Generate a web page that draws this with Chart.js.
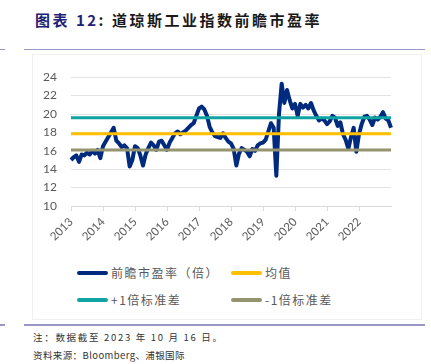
<!DOCTYPE html>
<html>
<head>
<meta charset="utf-8">
<script src="https://cdn.jsdelivr.net/npm/chart.js@4/dist/chart.umd.min.js"></script>
<style>
    body {margin: 0; background: #fff;}
    #page {position: relative; width: 431px; height: 364px; overflow: hidden; font-family: "Noto Sans CJK SC", sans-serif;}
    .abs {position: absolute;}
    #title {left: 35px; top: 9px; font-size: 15px; letter-spacing: 2.5px; color: #1a1a1a; font-weight: bold; white-space: nowrap;}
    #title .num {color: #1d2275;}
    .rule {height: 1.5px; background: #9a98c8;}
    #box {left: 32px; top: 54px; width: 388px; height: 264px; border: 1px solid #f0f0f0;}
    .legItem {position: absolute; font-size: 12px; color: #595959; letter-spacing: 1.5px; white-space: nowrap; line-height: 14px;}
    .legLine {position: absolute; width: 31px; height: 4px; border-radius: 2px;}
    .foot {left: 33px; font-size: 9.5px; color: #333; white-space: nowrap;}
</style>
</head>
<body>
<div id="page">
    <div id="title" class="abs"><span class="num">图表 12</span>: 道琼斯工业指数前瞻市盈率</div>
    <div class="abs rule" style="left:0; top:48.5px; width:5px;"></div>
    <div class="abs rule" style="left:24px; top:48.5px; width:401px;"></div>
    <div id="box" class="abs"></div>
    <canvas id="graph" class="abs" width="389" height="190" style="left:32px; top:56px;"></canvas>
    <div id="legend" class="abs" style="left:0; top:0;"></div>
    <div class="abs rule" style="left:0; top:324px; width:5px;"></div>
    <div class="abs rule" style="left:24px; top:324px; width:401px;"></div>
    <div class="abs foot" style="top:330px; letter-spacing:1.7px;">注：数据截至 2023 年 10 月 16 日。</div>
    <div class="abs foot" style="top:348px; letter-spacing:0.4px;">资料来源：Bloomberg、浦银国际</div>
</div>
<script>
const yearLabels = ["2013", "2014", "2015", "2016", "2017", "2018", "2019", "2020", "2021", "2022"];
// monthly forward P/E, Oct 2013 .. Oct 2023
const peForward = [
    15.0, 15.3, 15.5, 14.8, 15.6, 15.5, 15.8, 15.6, 16.0, 15.7,
    16.1, 15.2, 16.5, 17.0, 17.5, 18.0, 18.5, 17.1, 16.8, 16.4,
    16.6, 16.3, 14.3, 15.0, 16.5, 16.3, 15.5, 14.4, 15.6, 16.3,
    16.9, 16.6, 16.1, 17.0, 17.1, 16.6, 16.1, 16.9, 17.4, 17.9,
    18.1, 17.8, 18.0, 18.2, 18.5, 18.8, 19.0, 19.8, 20.6, 20.8,
    20.5, 19.8, 18.6, 18.0, 17.6, 17.5, 17.4, 17.9, 17.4, 17.0,
    16.8, 16.2, 14.4, 15.7, 16.3, 16.1, 15.9, 15.4, 16.2, 16.0,
    16.6, 16.8, 16.9, 17.2, 18.1, 19.0, 18.5, 13.3, 20.0, 23.3,
    21.2, 22.6, 21.5, 20.6, 21.1, 19.8, 21.1, 20.7, 21.0, 20.6,
    21.2, 20.4, 19.8, 19.3, 19.5, 19.3, 18.9, 19.2, 19.8, 19.6,
    18.7, 19.1, 17.8, 17.2, 16.2, 17.5, 18.5, 15.9, 17.8, 18.9,
    19.7, 19.8, 19.4, 18.8, 19.6, 19.4, 19.7, 20.2, 19.5, 19.3, 18.5
];
const meanValue = 17.85;
const plusOneSd = 19.6;
const minusOneSd = 16.1;
const yTicks = [10, 12, 14, 16, 18, 20, 22, 24];

// one category per month, year name on every 12th
const categories = peForward.map((_, i) => (i % 12 === 0 && yearLabels[i / 12]) ? yearLabels[i / 12] : "");
const flat = (v) => peForward.map(() => v);

const series = [
    {label: "前瞻市盈率（倍）", data: peForward, color: "#002a7e", width: 4, order: 9},
    {label: "均值", data: flat(meanValue), color: "#ffc000", width: 3, order: 2},
    {label: "+1倍标准差", data: flat(plusOneSd), color: "#0fa3a3", width: 3, order: 1},
    {label: "-1倍标准差", data: flat(minusOneSd), color: "#94946f", width: 3, order: 3}
];

new Chart(document.getElementById("graph").getContext("2d"), {
    type: "line",
    data: {
        labels: categories,
        datasets: series.map((s) => ({
            label: s.label,
            data: s.data,
            borderColor: s.color,
            borderWidth: s.width,
            pointRadius: 0,
            tension: 0,
            order: s.order,
            borderCapStyle: "butt",
            borderJoinStyle: "round"
        }))
    },
    options: {
        responsive: false,
        animation: false,
        devicePixelRatio: 1,
        layout: {padding: {left: 0, right: 30, top: 20.7, bottom: 0}},
        plugins: {legend: {display: false}, tooltip: {enabled: false}},
        scales: {
            x: {
                afterFit: (scale) => { scale.height = 40; },
                grid: {
                    drawOnChartArea: false,
                    tickLength: 5,
                    color: (ctx) => (ctx.index % 12 === 0 && ctx.index < 120) ? "#d9d9d9" : "rgba(0,0,0,0)"
                },
                border: {display: true, color: "#d9d9d9"},
                ticks: {
                    autoSkip: false,
                    minRotation: 45,
                    maxRotation: 45,
                    padding: 4,
                    color: "#595959",
                    font: {family: "Lato", size: 11.5}
                }
            },
            y: {
                min: 10,
                max: 24,
                afterFit: (scale) => { scale.width = 39; },
                afterBuildTicks: (scale) => { scale.ticks = yTicks.map((v) => ({value: v})); },
                grid: {color: "#e3e3e3", drawTicks: false},
                border: {display: false},
                ticks: {padding: 14, color: "#595959", font: {family: "Lato", size: 12}}
            }
        }
    }
});

// legend in a 2x2 grid like the original
const legendSpots = [
    {left: 77, top: 273}, {left: 231, top: 273},
    {left: 77, top: 300}, {left: 231, top: 300}
];
const legendEl = document.getElementById("legend");
series.forEach((s, i) => {
    const spot = legendSpots[i];
    const line = document.createElement("div");
    line.className = "legLine";
    line.style.left = spot.left + "px";
    line.style.top = (spot.top - 2) + "px";
    line.style.background = s.color;
    legendEl.appendChild(line);
    const text = document.createElement("div");
    text.className = "legItem";
    text.style.left = (spot.left + 34) + "px";
    text.style.top = (spot.top - 7) + "px";
    text.textContent = s.label;
    legendEl.appendChild(text);
});
</script>
</body>
</html>
